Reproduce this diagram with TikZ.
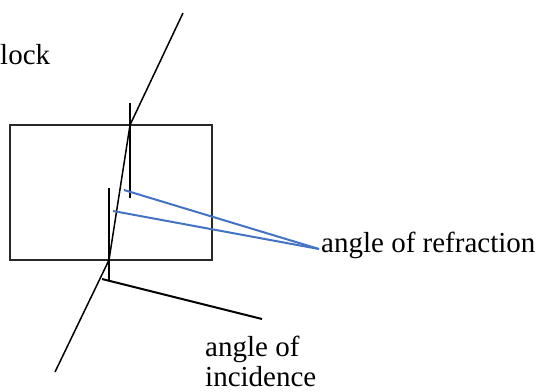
\documentclass[tikz,border=0pt]{standalone}
\usepackage{fontspec}
\setmainfont{Liberation Serif}
\newfontfamily\timesfont{Liberation Serif}
\definecolor{lineblue}{RGB}{68,114,196}
\definecolor{boxgray}{RGB}{40,40,40}
\tikzset{
  ray/.style={line width=1.5pt, black},
  normal/.style={line width=2.6pt, black},
  pointer/.style={line width=2pt, lineblue},
  incpointer/.style={line width=2pt, black},
  block/.style={draw=boxgray, line width=1.6pt},
  lbl/.style={inner sep=0pt, anchor=base west, font=\timesfont\fontsize{29}{33}\selectfont}
}
\begin{document}
\begin{tikzpicture}[x=1pt,y=-1pt]
\useasboundingbox (0,0) rectangle (537,391);
% glass block
\draw[block] (10,125) rectangle (212,260);
% ray points
\coordinate (A) at (183,13);
\coordinate (P) at (130,125);
\coordinate (Q) at (109,260);
\coordinate (E) at (55,372);
% normals
\coordinate (n1t) at (130,103);
\coordinate (n1b) at (130,198);
\coordinate (n2t) at (109,188);
\coordinate (n2b) at (109,280);
\draw[normal] (n1t) -- (n1b);
\draw[normal] (n2t) -- (n2b);
% ray
\draw[ray] (A) -- (P) -- (Q) -- (E);
% labels
\node[lbl] (blk) at (0,64) {lock};
\node[lbl] (refr) at (321,252) {angle of refraction};
\node[lbl] (inc) at (205,356) {angle of};
\node[lbl] (inc2) at (205,386) {incidence};
% pointers
\coordinate (r1) at (124,190);
\coordinate (r2) at (113,211);
\coordinate (rt) at (319,249);
\draw[pointer] (r1) -- (rt);
\draw[pointer] (r2) -- (rt);
\coordinate (i1) at (102,279);
\coordinate (i2) at (262,319);
\draw[incpointer] (i1) -- (i2);
\end{tikzpicture}
\end{document}
